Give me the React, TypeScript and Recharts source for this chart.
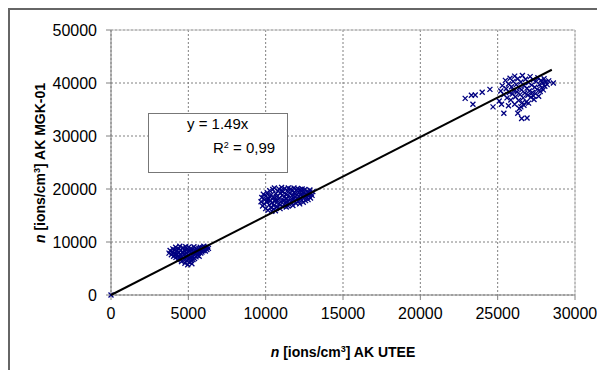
import { ScatterChart, Scatter, XAxis, YAxis, CartesianGrid, ReferenceLine } from 'recharts';

// measured points, [AK UTEE, AK MGK-01] in ions/cm3
const origin = [[0, 0]];

const cluster1 = [
  [3750, 7900], [3820, 8400], [3900, 7600], [3950, 8100], [4000, 8700], [4050, 7300], [4100, 7900], [4120, 8500], [4180, 9000], [4200, 7100],
  [4250, 7700], [4280, 8300], [4300, 6600], [4350, 8800], [4380, 7400], [4400, 8000], [4450, 9200], [4470, 6900], [4500, 7600], [4520, 8500],
  [4560, 6300], [4600, 7200], [4620, 8100], [4650, 8900], [4700, 6700], [4720, 7600], [4750, 8400], [4780, 6000], [4800, 7100], [4830, 9100],
  [4850, 7900], [4880, 6500], [4900, 8600], [4930, 7300], [4960, 5700], [4980, 8100], [5000, 6800], [5020, 9000], [5050, 7500], [5080, 6200],
  [5100, 8300], [5130, 7000], [5160, 8800], [5180, 6500], [5200, 7800], [5230, 5900], [5260, 8500], [5280, 7200], [5300, 6700], [5330, 8000],
  [5360, 9100], [5380, 7500], [5400, 6900], [5430, 8400], [5460, 7800], [5500, 7200], [5520, 8800], [5550, 8100], [5580, 7500], [5600, 8500],
  [5640, 7900], [5680, 8800], [5700, 7300], [5730, 8300], [5770, 9000], [5800, 7900], [5840, 8500], [5880, 8100], [5920, 8900], [5960, 8400],
  [6000, 9200], [6050, 8700], [6100, 8300], [6150, 9000], [6200, 8600], [6250, 9100], [6300, 8800], [4150, 7600], [4420, 7000], [4680, 7900],
];

const cluster2 = [
  [9700, 17600], [9750, 18400], [9800, 16800], [9850, 19000], [9900, 17200], [9950, 18000], [10000, 16300], [10020, 18700], [10080, 17500], [10100, 19300],
  [10150, 16000], [10180, 18200], [10220, 17000], [10260, 19700], [10300, 17800], [10330, 16500], [10360, 18900], [10400, 15800], [10420, 17400], [10460, 19900],
  [10500, 18300], [10530, 16900], [10560, 20200], [10600, 17700], [10630, 15900], [10660, 19100], [10700, 18600], [10730, 16600], [10760, 17900], [10800, 19600],
  [10830, 17200], [10860, 20000], [10900, 18300], [10930, 16300], [10960, 19200], [11000, 17600], [11030, 20300], [11060, 18800], [11100, 16700], [11130, 19500],
  [11160, 17900], [11200, 18500], [11230, 20100], [11260, 17300], [11300, 19000], [11330, 16600], [11360, 18200], [11400, 19700], [11430, 17700], [11460, 20200],
  [11500, 18700], [11530, 17100], [11560, 19300], [11600, 18000], [11630, 20000], [11660, 17500], [11700, 18800], [11730, 19600], [11760, 16900], [11800, 18300],
  [11830, 20200], [11860, 17800], [11900, 19100], [11930, 18500], [11960, 17300], [12000, 19800], [12030, 18100], [12060, 20100], [12100, 17600], [12130, 19300],
  [12160, 18700], [12200, 17200], [12230, 19900], [12260, 18300], [12300, 19500], [12330, 17900], [12360, 20000], [12400, 18800], [12430, 17500], [12460, 19300],
  [12500, 18400], [12540, 19900], [12580, 17800], [12620, 19000], [12660, 18500], [12700, 19600], [12740, 18000], [12780, 19200], [12820, 18700], [12860, 19800],
  [12900, 18300], [12950, 19100], [13000, 18800], [13050, 19500], [10250, 18600], [10650, 18000], [11050, 19700], [11450, 16800], [11850, 19400], [12250, 18900],
  [10120, 17900], [10520, 16200], [10950, 17000], [11350, 17500], [11750, 18000],
];

const cluster3 = [
  [22900, 37100], [23300, 37700], [23550, 37750], [23400, 36000], [24000, 38250], [24500, 38800], [24700, 35500], [25100, 36600], [25250, 36000], [25400, 34300],
  [26300, 34300], [26500, 35500], [26550, 33300], [26900, 33400], [28600, 40000],
  [25200, 38500], [25300, 39500], [25400, 37800], [25500, 40500], [25550, 38900], [25600, 37200], [25700, 39800], [25750, 38200], [25800, 40900], [25850, 36800],
  [25900, 39300], [25950, 37900], [26000, 40300], [26050, 38600], [26100, 41300], [26150, 37400], [26200, 39700], [26250, 38300], [26300, 40800], [26350, 36700],
  [26400, 39100], [26450, 37800], [26500, 40200], [26550, 38700], [26600, 41400], [26650, 37200], [26700, 39500], [26750, 38100], [26800, 40700], [26850, 36400],
  [26900, 39000], [26950, 37700], [27000, 40100], [27050, 38500], [27100, 41200], [27150, 37300], [27200, 39600], [27250, 38200], [27300, 40600], [27350, 36900],
  [27400, 39200], [27450, 38000], [27500, 40300], [27550, 38800], [27600, 41000], [27650, 37500], [27700, 39700], [27750, 38400], [27800, 40500], [27850, 39100],
  [27900, 40000], [27950, 38700], [28000, 40800], [28050, 39400], [28100, 40200], [28200, 39700], [28300, 40400],
  [26100, 36000], [26700, 35800], [27000, 36200], [26400, 35200], [25700, 35700], [27300, 37600], [26600, 36300],
];

// linear trend y = 1.49x, drawn from origin to its end point
const trendLine = [[0, 0], [28500, 42500]];

const xTicks = [0, 5000, 10000, 15000, 20000, 25000, 30000];
const yTicks = [0, 10000, 20000, 30000, 40000, 50000];

const toPoints = (rows: number[][]) => rows.map(([x, y]) => ({ x, y }));

const FONT = '"Liberation Sans", Arial, sans-serif';

const Cross = (props: any) => {
  const { cx, cy } = props;
  if (cx == null || cy == null) return <g />;
  const r = 2.5;
  return (
    <path
      d={`M${cx - r},${cy - r}L${cx + r},${cy + r}M${cx - r},${cy + r}L${cx + r},${cy - r}`}
      stroke="#000080"
      strokeWidth={1.3}
      fill="none"
    />
  );
};

export default function App() {
  const tick = { fill: '#000', fontSize: 16, fontFamily: FONT };
  const allPoints = [...toPoints(origin), ...toPoints(cluster1), ...toPoints(cluster2), ...toPoints(cluster3)];

  return (
    // fixed so the page never gets a scrollbar
    <div
      style={{
        position: 'fixed', left: 8, top: 8, width: 589, height: 362, boxSizing: 'border-box',
        borderTop: '2px solid #666', borderLeft: '2px solid #666', background: '#fff', fontFamily: FONT,
      }}
    >
      <ScatterChart width={587} height={360} margin={{ top: 20, right: 22, bottom: 45, left: 41 }} style={{ position: 'absolute', left: 0, top: 0, overflow: 'visible' }}>
        <CartesianGrid stroke="#808080" strokeDasharray="2 2" />
        <XAxis
          type="number" dataKey="x" domain={[0, 30000]} ticks={xTicks} interval={0} height={30}
          tick={tick} tickSize={5} tickMargin={8} stroke="#808080" allowDecimals={false}
        />
        <YAxis
          type="number" dataKey="y" domain={[0, 50000]} ticks={yTicks} interval={0} width={60}
          tick={tick} tickSize={5} tickMargin={9} stroke="#808080"
        />
        <ReferenceLine y={50000} stroke="#c0c0c0" />
        <ReferenceLine x={30000} stroke="#c0c0c0" />
        <Scatter data={allPoints} shape={Cross} isAnimationActive={false} />
        <Scatter
          data={toPoints(trendLine)}
          line={{ stroke: '#000', strokeWidth: 2 }}
          shape={() => <g />}
          isAnimationActive={false}
        />
      </ScatterChart>

      <div
        style={{
          position: 'absolute', left: 138, top: 103, width: 140, height: 60, boxSizing: 'border-box',
          border: '1px solid #777', background: '#fff', fontSize: 15, color: '#000',
        }}
      >
        <span style={{ position: 'absolute', left: 38, top: 1 }}>y = 1.49x</span>
        <span style={{ position: 'absolute', left: 64, top: 25 }}>
          R<sup style={{ fontSize: 9, verticalAlign: 'top', lineHeight: '12px' }}>2</sup> = 0,99
        </span>
      </div>

      <div
        style={{
          position: 'absolute', left: 30, top: 153, transform: 'translate(-50%, -50%) rotate(-90deg)',
          whiteSpace: 'nowrap', fontSize: 14, fontWeight: 'bold', color: '#000',
        }}
      >
        <i>n</i> [ions/cm<sup style={{ fontSize: 9, verticalAlign: 'top', lineHeight: '10px' }}>3</sup>] AK MGK-01
      </div>

      <div
        style={{
          position: 'absolute', left: 333, top: 342, transform: 'translate(-50%, -50%)',
          whiteSpace: 'nowrap', fontSize: 14, fontWeight: 'bold', color: '#000',
        }}
      >
        <i>n</i> [ions/cm<sup style={{ fontSize: 9, verticalAlign: 'top', lineHeight: '10px' }}>3</sup>] AK UTEE
      </div>
    </div>
  );
}
